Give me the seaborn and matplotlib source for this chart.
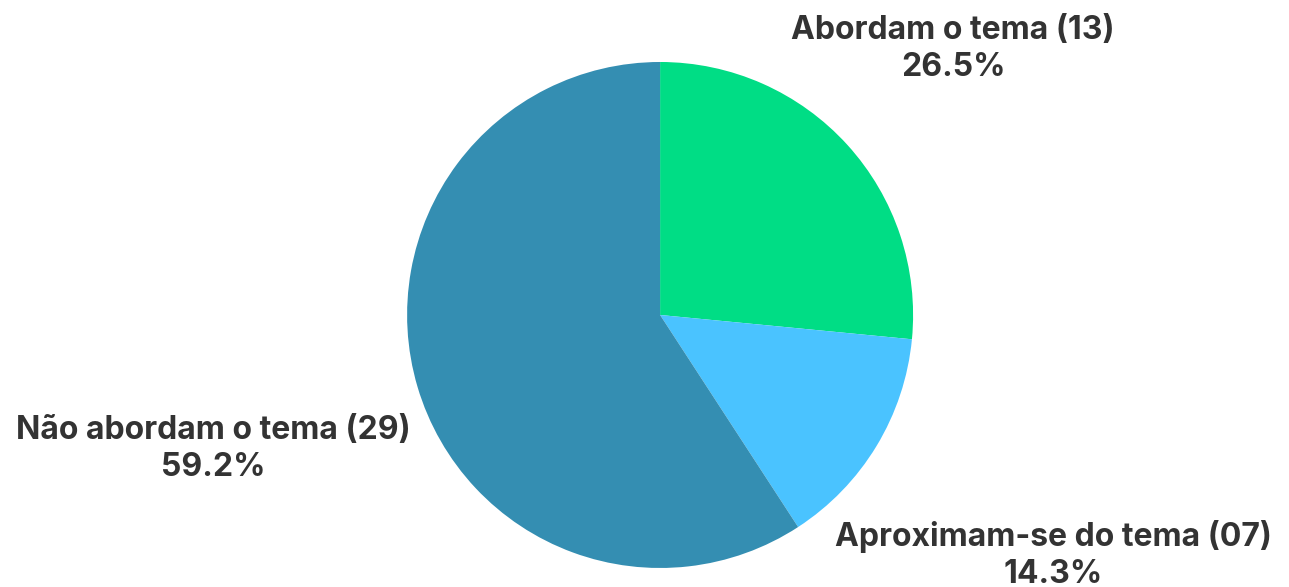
import numpy as np
import matplotlib.pyplot as plt
import seaborn as sns

# dados da pizza
categorias = ["Abordam o tema", "Aproximam-se do tema", "Não abordam o tema"]
contagens = [13, 7, 29]
rotulos_contagem = ["13", "07", "29"]
cores = ["#00DD85", "#4AC3FF", "#348EB2"]

sns.set_theme(style="white")
plt.rcParams["font.family"] = ["Inter", "DejaVu Sans"]

fig = plt.figure(figsize=(12.89, 5.87), dpi=100)
ax = fig.add_axes([0.3158, 0.0324, 0.3926, 0.862])

wedges, _ = ax.pie(contagens, colors=cores, startangle=90, counterclock=False,
                   radius=1.0, wedgeprops=dict(linewidth=0))
ax.set_xlim(-1, 1)
ax.set_ylim(-1, 1)
ax.set_aspect("equal")

total = sum(contagens)
# posicoes dos rotulos (em unidades do raio)
pos_rotulos = [(1.158, 1.05), (1.553, -0.95), (-1.767, -0.53)]
for cat, n, lab, (x, y) in zip(categorias, contagens, rotulos_contagem, pos_rotulos):
    ax.text(x, y, f"{cat} ({lab})\n{n / total * 100:.1f}%", ha="center", va="center",
            fontsize=23, fontweight="bold", color="#333333", linespacing=1.25,
            clip_on=False)

fig.savefig("out.png", dpi=100)
